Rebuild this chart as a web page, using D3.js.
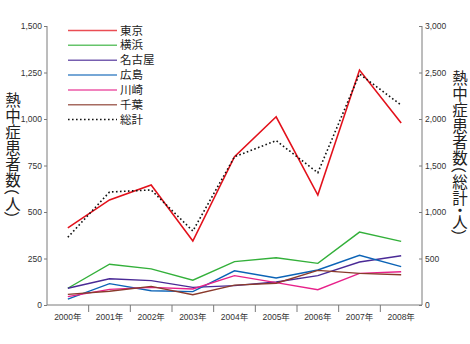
<!DOCTYPE html>
<html>
<head>
<meta charset="utf-8">
<script src="https://cdn.jsdelivr.net/npm/d3@7"></script>
<style>
  html, body { margin: 0; padding: 0; background: #fff; }
  svg { display: block; }
</style>
</head>
<body>
<svg id="chart" width="470" height="344"></svg>
<script>
// Heatstroke patients by city, 2000–2008
const years = ["2000年", "2001年", "2002年", "2003年", "2004年", "2005年", "2006年", "2007年", "2008年"];
const cities = ["東京", "横浜", "名古屋", "広島", "川崎", "千葉"];
const tokyo    = [415, 565, 645, 344, 797, 1012, 591, 1263, 978];
const yokohama = [90, 219, 194, 133, 233, 254, 224, 392, 342];
const nagoya   = [90, 141, 131, 95, 104, 124, 158, 231, 265];
const hiroshima= [32, 115, 77, 72, 184, 145, 188, 267, 206];
const kawasaki = [45, 84, 95, 86, 158, 120, 82, 170, 179];
const chiba    = [57, 74, 100, 55, 107, 117, 186, 170, 163];
const total    = [728, 1215, 1237, 796, 1594, 1767, 1422, 2484, 2150];
const leftTicks  = [0, 250, 500, 750, 1000, 1250, 1500];
const rightTicks = [0, 500, 1000, 1500, 2000, 2500, 3000];
const cityColors = ["#e3111b", "#33b03a", "#4a2a96", "#0b63b6", "#e7218a", "#8a3a2c"];

const cityValues = [tokyo, yokohama, nagoya, hiroshima, kawasaki, chiba];

const svg = d3.select("#chart");
const plotLeft = 47, plotRight = 422, plotTop = 26, plotBottom = 305;
const axisColor = "#7a7a7a";
const numFont = "'Liberation Sans', Arial, 'Noto Sans CJK JP', sans-serif";
const jpFont = "'Noto Sans CJK JP', sans-serif";

const x = d3.scaleBand().domain(years).range([plotLeft, plotRight]);
const yL = d3.scaleLinear().domain([0, 1500]).range([plotBottom, plotTop]);
const yR = d3.scaleLinear().domain([0, 3000]).range([plotBottom, plotTop]);
const fmt = d3.format(",");

// left axis
const gL = svg.append("g").attr("transform", `translate(${plotLeft},0)`)
  .call(d3.axisLeft(yL).tickValues(leftTicks).tickFormat(fmt).tickSize(3).tickPadding(2));
// right axis (ticks point inward)
const gR = svg.append("g").attr("transform", `translate(${plotRight},0)`)
  .call(d3.axisRight(yR).tickValues(rightTicks).tickFormat(fmt).tickSize(-3).tickPadding(3));
// bottom axis: ticks at band boundaries, labels at band centres
const gB = svg.append("g").attr("transform", `translate(0,${plotBottom})`)
  .call(d3.axisBottom(x).tickSize(0).tickPadding(9));
gB.selectAll(".boundary").data(years.slice(1)).enter().append("line")
  .attr("class", "boundary")
  .attr("x1", d => x(d)).attr("x2", d => x(d))
  .attr("y1", 0).attr("y2", 7)
  .attr("stroke", axisColor).attr("stroke-width", 1);

[gL, gR, gB].forEach(g => {
  g.select(".domain").attr("stroke", axisColor).attr("stroke-width", 1);
  g.selectAll(".tick line").attr("stroke", axisColor);
  g.selectAll("text").attr("fill", "#333").style("font-family", numFont).style("font-size", "8.5px");
});
gL.select(".domain").attr("d", `M0,${plotTop}V${plotBottom}`);
gR.select(".domain").attr("d", `M0,${plotTop}V${plotBottom}`);
gB.select(".domain").attr("d", `M${plotLeft},0H${plotRight}`);

// city lines
const lineL = d3.line().x((d, i) => x(years[i]) + x.bandwidth() / 2).y(d => yL(d));
cityValues.forEach((vals, k) => {
  svg.append("path").datum(vals)
    .attr("d", lineL)
    .attr("fill", "none")
    .attr("stroke", cityColors[k])
    .attr("stroke-width", k === 0 ? 1.6 : 1.4)
    .attr("stroke-linejoin", "miter");
});

// total line on right scale
const lineR = d3.line().x((d, i) => x(years[i]) + x.bandwidth() / 2).y(d => yR(d));
svg.append("path").datum(total)
  .attr("d", lineR)
  .attr("fill", "none")
  .attr("stroke", "#111")
  .attr("stroke-width", 1.6)
  .attr("stroke-dasharray", "1.6,2.4");

// legend
const legendItems = cities.map((c, i) => ({ name: c, color: cityColors[i], dash: null }))
  .concat([{ name: "総計", color: "#111", dash: "1.6,2.4" }]);
const lg = svg.append("g");
legendItems.forEach((d, i) => {
  const yy = 30.5 + i * 14.85;
  lg.append("line").attr("x1", 68).attr("x2", 117).attr("y1", yy).attr("y2", yy)
    .attr("stroke", d.color).attr("stroke-width", 1.5).attr("stroke-opacity", d.dash ? 1 : 0.75)
    .attr("stroke-dasharray", d.dash);
  lg.append("text").attr("x", 120).attr("y", yy).attr("dy", "0.36em")
    .attr("fill", "#222").style("font-family", jpFont).style("font-size", "11.5px")
    .text(d.name);
});

// vertical axis titles, set character by character (brackets turned, half-width)
function verticalTitle(cx, y0, label) {
  const em = 15.5, full = 16, half = 8;
  const g = svg.append("g")
    .style("font-family", jpFont).style("font-size", em + "px")
    .attr("fill", "#222");
  let cursor = y0;
  Array.from(label).forEach(ch => {
    const isOpen = ch === "（", isClose = ch === "）", isDot = ch === "・";
    const pitch = (isOpen || isClose || isDot) ? half : full;
    let cy = cursor + pitch / 2;
    if (isOpen) cy = cursor + pitch - em / 2;
    if (isClose) cy = cursor + em / 2;
    const t = g.append("text")
      .attr("x", cx).attr("y", cy)
      .attr("text-anchor", "middle")
      .attr("dominant-baseline", "central")
      .text(ch);
    if (isOpen || isClose) t.attr("transform", `rotate(90,${cx},${cy})`);
    cursor += pitch;
  });
}
verticalTitle(13, 91, "熱中症患者数（人）");
verticalTitle(460, 69, "熱中症患者数（総計・人）");
</script>
</body>
</html>
